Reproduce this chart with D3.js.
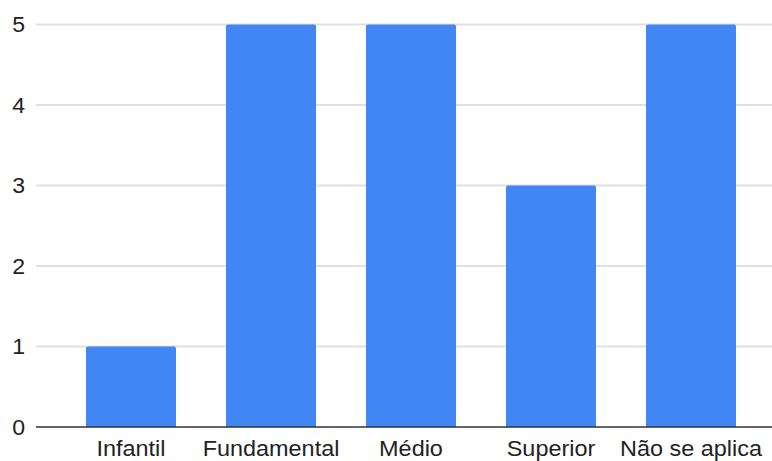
<!DOCTYPE html>
<html><head><meta charset="utf-8">
<script src="https://cdn.jsdelivr.net/npm/d3@7"></script>
<style>body{margin:0;background:#fff}svg{display:block}</style>
</head><body>
<script>
const categories = ["Infantil", "Fundamental", "Médio", "Superior", "Não se aplica"];
const values = [1, 5, 5, 3, 5];
const yTicks = [0, 1, 2, 3, 4, 5];

const W = 772, H = 461;
const svg = d3.select("body").append("svg").attr("width", W).attr("height", H);
const x = d3.scaleBand().domain(categories).range([61, 761]).paddingInner(0.357).paddingOuter(0.1785);
const y = d3.scaleLinear().domain([0, 5]).range([427, 24.5]);
const font = "'Liberation Sans', Arial, sans-serif";

svg.append("g").selectAll("line").data(yTicks.filter(t => t > 0)).join("line")
  .attr("x1", 36).attr("x2", W).attr("y1", d => y(d)).attr("y2", d => y(d))
  .attr("stroke", "#e0e0e0").attr("stroke-width", 2);

svg.append("g").selectAll("text").data(yTicks).join("text")
  .attr("transform", d => `translate(25,${y(d)}) scale(1.05,1)`).attr("dy", "0.36em")
  .attr("text-anchor", "end").attr("font-family", font).attr("font-size", 22)
  .attr("fill", "#222").text(d => d);

svg.append("g").selectAll("path").data(values).join("path")
  .attr("fill", "#4285f4")
  .attr("d", (d, i) => {
    const x0 = x(categories[i]), w = x.bandwidth(), y0 = y(d), y1 = y(0), r = 2;
    return `M${x0},${y1}V${y0 + r}Q${x0},${y0} ${x0 + r},${y0}H${x0 + w - r}Q${x0 + w},${y0} ${x0 + w},${y0 + r}V${y1}Z`;
  });

svg.append("line").attr("x1", 36).attr("x2", W).attr("y1", y(0)).attr("y2", y(0))
  .attr("stroke", "#333").attr("stroke-width", 1.5);

svg.append("g").selectAll("text").data(categories).join("text")
  .attr("transform", d => `translate(${x(d) + x.bandwidth() / 2},456) scale(1.065,1)`)
  .attr("text-anchor", "middle").attr("font-family", font).attr("font-size", 22)
  .attr("fill", "#222").text(d => d);
</script>
</body></html>
